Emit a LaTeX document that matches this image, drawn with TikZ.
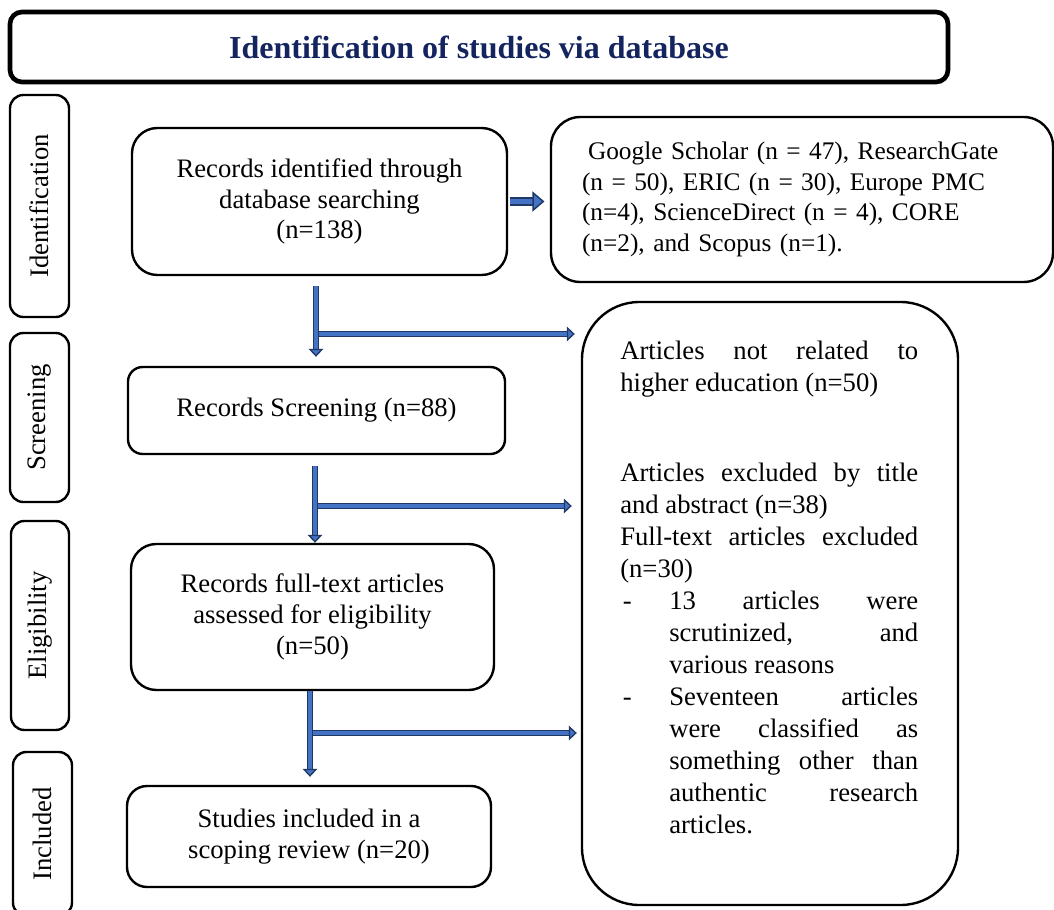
\documentclass[tikz,border=0pt]{standalone}
\usepackage{fontspec}
\setmainfont{Liberation Serif}
\usetikzlibrary{positioning,arrows.meta}

\definecolor{titleblue}{HTML}{14245F}
\definecolor{arrowedge}{HTML}{1F3864}
\definecolor{arrowfill}{HTML}{4472C4}

\newcommand{\jline}[2][223.5pt]{\makebox[#1][s]{#2}}
\newcommand{\hangline}[1]{\hspace*{36.75pt}\jline[186.75pt]{#1}}
\newcommand{\dashline}[1]{\makebox[36.75pt][l]{\hspace{2pt}-}\jline[186.75pt]{#1}}

\tikzset{
  box/.style={draw, line width=1.8pt, align=center, inner sep=0pt,
    font=\fontsize{20}{23}\selectfont},
  phase/.style={box, rotate=90, rounded corners=10pt},
  flow/.style={draw=arrowedge, line width=1pt, double=arrowfill, double distance=2.8pt,
    -{Triangle[length=6pt,width=11pt,line width=1pt,fill=arrowfill]}},
  bigflow/.style={flow, line width=1.1pt, double distance=4.3pt,
    -{Triangle[length=9pt,width=15pt,line width=1.1pt,fill=arrowfill]}},
}

\begin{document}
\begin{tikzpicture}[x=0.75pt, y=-0.75pt]
  \useasboundingbox (0,0) rectangle (1054,910);
  \node (title) [box, line width=3.5pt, rounded corners=9pt, minimum width=703.5pt, minimum height=52.5pt,
    font=\fontsize{24}{28}\selectfont\bfseries, text=titleblue] at (479,47) {Identification of studies via database};

  % phases on the left
  \node (idphase) [phase, minimum width=166.5pt, minimum height=44.25pt] at (39.5,206) {Identification};
  \node (scrphase) [phase, minimum width=126.75pt, minimum height=44.25pt] at (39.5,417.5) {Screening};
  \node (eligphase) [phase, minimum width=156.75pt, minimum height=43.5pt] at (40,625.5) {Eligibility};
  \node (inclphase) [phase, minimum width=123pt, minimum height=44.25pt] at (42.5,834) {Included};

  % flow boxes
  \node (rec) [box, rounded corners=19pt, minimum width=281.25pt, minimum height=110.25pt] at (319.5,201.5)
    {Records identified through\\ database searching\\ (n=138)};
  \node (google) [box, rounded corners=22pt, minimum width=376.5pt, minimum height=123.75pt,
    text width=330pt, align=left, font=\fontsize{19}{23}\selectfont] at (802,199.5)
    {\hspace*{4.5pt}Google Scholar (n = 47), ResearchGate\\ (n = 50), ERIC (n = 30), Europe PMC\\
     (n=4), ScienceDirect (n = 4), CORE\\ (n=2), and Scopus (n=1).};
  \node (screen) [box, rounded corners=11pt, minimum width=282.75pt, minimum height=65.25pt] at (316.5,410.5)
    {Records Screening (n=88)};
  \node (elig) [box, rounded corners=19pt, minimum width=272.25pt, minimum height=109.5pt] at (312.5,617)
    {\rule{0pt}{6pt}Records full-text articles\\ assessed for eligibility\\ (n=50)};
  \node (incl) [box, rounded corners=15pt, minimum width=273pt, minimum height=75.75pt] at (309,836.5)
    {\rule{0pt}{6pt}Studies included in a\\ scoping review (n=20)};
  \node (excl) [box, rounded corners=43pt, minimum width=282pt, minimum height=452.25pt] at (770,603.5) {};
  \node (excltxt) [anchor=north west, align=left, inner sep=0pt, font=\fontsize{20}{24}\selectfont] at (620,341)
    {\jline{Articles not related to}\\
     higher education (n=50)\\[43.5pt]
     \jline{Articles excluded by title}\\
     and abstract (n=38)\\
     \jline{Full-text articles excluded}\\
     (n=30)\\
     \dashline{13 articles were}\\
     \hangline{scrutinized, and}\\
     \hspace*{36.75pt}various reasons\\
     \dashline{Seventeen articles}\\
     \hangline{were classified as}\\
     \hangline{something other than}\\
     \hangline{authentic research}\\
     \hspace*{36.75pt}articles.};

  % connectors
  \coordinate (j1) at (316,334);
  \coordinate (j2) at (315,506);
  \coordinate (j3) at (310,733);
  \draw [bigflow, shorten <=1.5pt, shorten >=4pt] (rec.east) -- (rec.east -| google.west);
  \draw [flow, shorten <=2pt, shorten >=4.5pt] (j1) -- (j1 -| excl.west);
  \draw [flow, shorten <=7.5pt, shorten >=6.75pt] (rec.south -| j1) -- (screen.north -| j1);
  \draw [flow, shorten <=2pt, shorten >=6.75pt] (j2) -- (j2 -| excl.west);
  \draw [flow, shorten <=8.25pt] (screen.south -| j2) -- (elig.north -| j2);
  \draw [flow, shorten <=2pt, shorten >=3pt] (j3) -- (j3 -| excl.west);
  \draw [flow, shorten >=6pt] (elig.south -| j3) -- (incl.north -| j3);
\end{tikzpicture}
\end{document}
